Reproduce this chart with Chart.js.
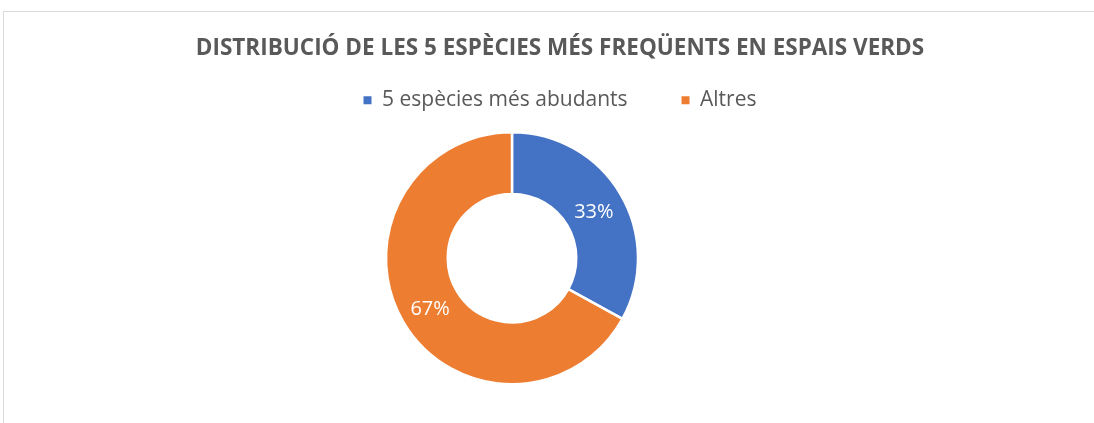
<!DOCTYPE html>
<html>
<head>
<meta charset="utf-8">
<script src="https://cdn.jsdelivr.net/npm/chart.js@4/dist/chart.umd.min.js"></script>
<style>
  html, body { margin:0; padding:0; background:#fff; width:1094px; height:423px; overflow:hidden; }
  #frame { position:absolute; left:3px; top:11px; width:1100px; height:420px; border-left:1px solid #d9d9d9; border-top:1px solid #d9d9d9; box-sizing:border-box; }
  #wrap { position:absolute; left:0; top:0; width:1120px; height:423px; }
</style>
</head>
<body>
<div id="frame"></div>
<div id="wrap"><canvas id="c" width="1120" height="423"></canvas></div>
<script>
const categories = ["5 espècies més abudants", "Altres"];
const values = [33, 67];
const colors = ["#4472C4", "#ED7D31"];
const titleText = "DISTRIBUCIÓ DE LES 5 ESPÈCIES MÉS FREQÜENTS EN ESPAIS VERDS";

const FONT = 'Open Sans';

const labelPlugin = {
  id: 'pctLabels',
  afterDatasetsDraw(chart) {
    const ctx = chart.ctx;
    const meta = chart.getDatasetMeta(0);
    const total = values.reduce((a, b) => a + b, 0);
    ctx.save();
    ctx.fillStyle = '#ffffff';
    ctx.font = '20px "' + FONT + '"';
    ctx.textAlign = 'center';
    ctx.textBaseline = 'middle';
    meta.data.forEach((arc, i) => {
      const p = arc.tooltipPosition();
      ctx.fillText(Math.round(values[i] / total * 100) + '%', p.x, p.y + 2.5);
    });
    ctx.restore();
  }
};

// empty layout box on the right so the plot area sits left of the title centre
const rightGap = {
  id: 'rightGap',
  beforeInit(chart) {
    const box = {
      position: 'right', fullSize: false, weight: 0, options: {},
      width: 0, height: 0, top: 0, left: 0, right: 0, bottom: 0,
      update(maxWidth, maxHeight) { this.width = 96; this.height = maxHeight; },
      isHorizontal() { return false; },
      draw() {}
    };
    Chart.layouts.addBox(chart, box);
  }
};

new Chart(document.getElementById('c'), {
  type: 'doughnut',
  data: {
    labels: categories,
    datasets: [{
      data: values,
      backgroundColor: colors,
      borderColor: '#ffffff',
      borderWidth: 2.5,
      radius: 126,
      cutout: '51%'
    }]
  },
  options: {
    responsive: false,
    animation: false,
    layout: { padding: { bottom: 27.5 } },
    plugins: {
      title: {
        display: true,
        text: titleText,
        color: '#595959',
        font: { family: FONT, size: 22.5, weight: 'bold' },
        padding: { top: 35.2, bottom: -26.4 }
      },
      legend: {
        position: 'top',
        labels: {
          color: '#595959',
          font: { family: FONT, size: 21 },
          boxWidth: 8,
          boxHeight: 8,
          padding: 54,
          generateLabels(chart) {
            const items = Chart.overrides.doughnut.plugins.legend.labels.generateLabels(chart);
            items.forEach(it => { it.lineWidth = 0; });
            return items;
          }
        }
      },
      tooltip: { enabled: false }
    }
  },
  plugins: [labelPlugin, rightGap]
});
</script>
</body>
</html>
